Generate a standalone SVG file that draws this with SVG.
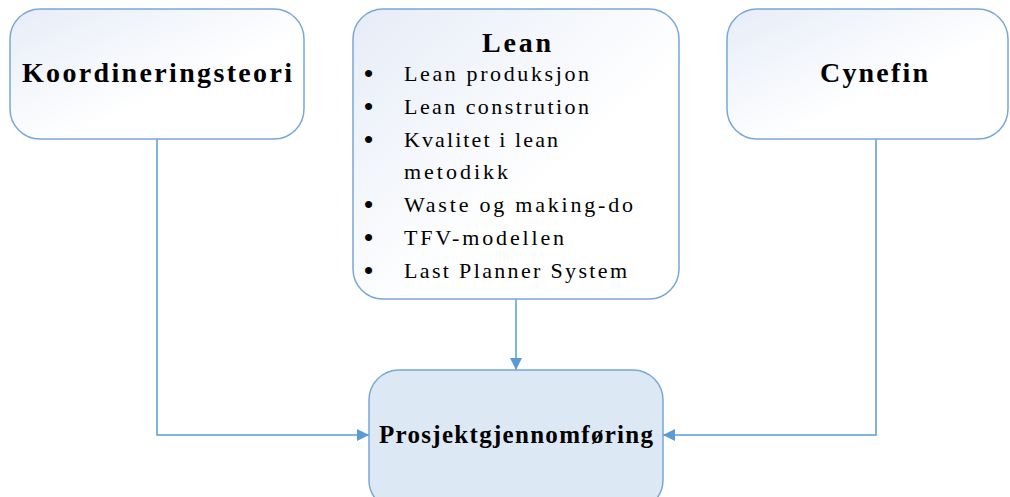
<svg xmlns="http://www.w3.org/2000/svg" width="1010" height="497" viewBox="0 0 1010 497">
<defs>
<linearGradient id="g" x1="0" y1="0" x2="1" y2="1">
<stop offset="0" stop-color="#e6ecf7"/>
<stop offset="0.6" stop-color="#ffffff"/>
<stop offset="1" stop-color="#ffffff"/>
</linearGradient>
<marker id="arr" viewBox="0 0 10 10" refX="10" refY="5" markerWidth="12" markerHeight="12" markerUnits="userSpaceOnUse" orient="auto">
<path d="M0,0 L10,5 L0,10 z" fill="#5b9bd5"/>
</marker>
<style>
.box{fill:url(#g);stroke:#7aa7d6;stroke-width:1.5}
text{font-family:'Liberation Serif','DejaVu Serif',serif;fill:#000}
.t{font-weight:bold;font-size:28px}
.li{font-size:22px}
.b{font-size:26px;font-weight:bold}
.c{fill:none;stroke:#5b9bd5;stroke-width:1.5}
</style>
</defs>
<rect width="1010" height="497" fill="#fff"/>
<g id="connectors">
<path class="c" d="M157,139 V435 H369" marker-end="url(#arr)"/>
<path class="c" d="M516,299 V370" marker-end="url(#arr)"/>
<path class="c" d="M876,139 V435 H663" marker-end="url(#arr)"/>
</g>
<g id="koordineringsteori">
<rect class="box" x="10" y="9" width="294" height="130" rx="30"/>
<text class="t" x="22" y="82" textLength="270" lengthAdjust="spacing">Koordineringsteori</text>
</g>
<g id="lean">
<rect class="box" x="353" y="9" width="326" height="290" rx="30"/>
<text class="t" x="482" y="52" textLength="69" lengthAdjust="spacing">Lean</text>
<text class="b" x="364" y="82">•</text>
<text class="b" x="364" y="115">•</text>
<text class="b" x="364" y="148">•</text>
<text class="b" x="364" y="213">•</text>
<text class="b" x="364" y="246">•</text>
<text class="b" x="364" y="279">•</text>
<text class="li" x="404" y="81" textLength="185" lengthAdjust="spacing">Lean produksjon</text>
<text class="li" x="404" y="114" textLength="185" lengthAdjust="spacing">Lean constrution</text>
<text class="li" x="404" y="147" textLength="154" lengthAdjust="spacing">Kvalitet i lean</text>
<text class="li" x="404" y="179" textLength="104" lengthAdjust="spacing">metodikk</text>
<text class="li" x="404" y="212" textLength="229" lengthAdjust="spacing">Waste og making-do</text>
<text class="li" x="404" y="245" textLength="160" lengthAdjust="spacing">TFV-modellen</text>
<text class="li" x="404" y="278" textLength="223" lengthAdjust="spacing">Last Planner System</text>
</g>
<g id="cynefin">
<rect class="box" x="727" y="9" width="281" height="130" rx="30"/>
<text class="t" x="820" y="82" textLength="108" lengthAdjust="spacing">Cynefin</text>
</g>
<g id="prosjektgjennomforing">
<rect x="369" y="370" width="294" height="140" rx="30" fill="#dde8f5" stroke="#7aa7d6" stroke-width="1.5"/>
<text class="t" x="379" y="443" style="font-size:25px" textLength="274" lengthAdjust="spacing">Prosjektgjennomføring</text>
</g>
</svg>
